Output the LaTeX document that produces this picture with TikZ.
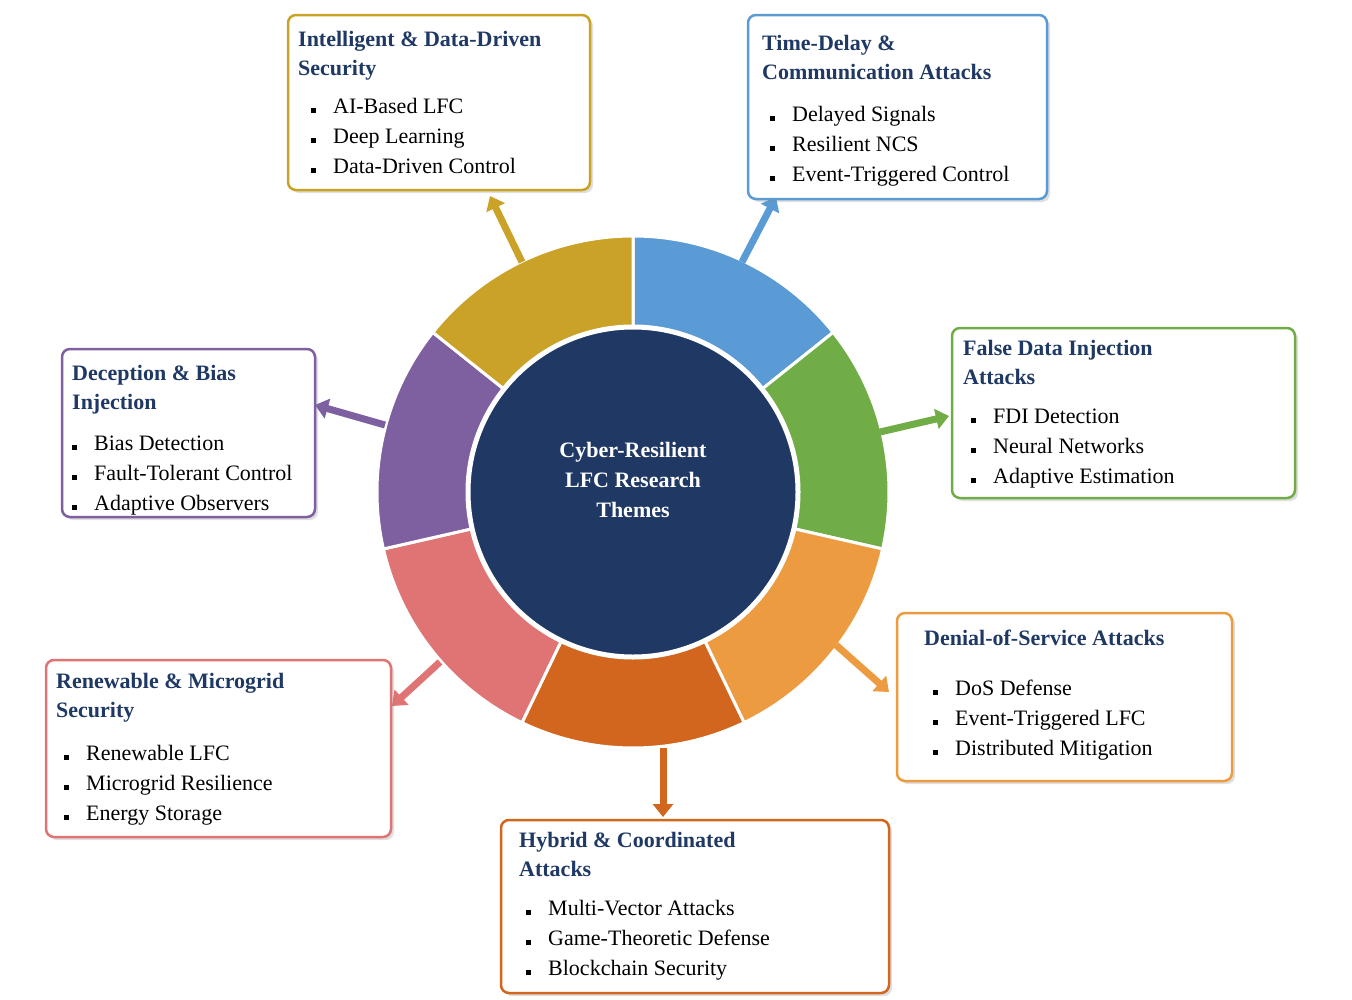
\documentclass[tikz,border=0pt]{standalone}
\usepackage{fontspec}
\setmainfont{Liberation Serif}
\usetikzlibrary{arrows.meta,shadows}
\definecolor{cblue}{HTML}{5B9BD5}
\definecolor{cgreen}{HTML}{70AD47}
\definecolor{corange}{HTML}{ED9B40}
\definecolor{cdorange}{HTML}{D2661E}
\definecolor{cpink}{HTML}{E07474}
\definecolor{cpurple}{HTML}{7E60A0}
\definecolor{cgold}{HTML}{C9A227}
\definecolor{cnavy}{HTML}{1F3864}
\tikzset{
 themebox/.style={draw=#1,line width=2.5pt,rounded corners=8pt,fill=white,drop shadow={opacity=0.25,shadow xshift=3pt,shadow yshift=-3pt}},
 ttl/.style={anchor=base west,inner sep=0,font=\fontsize{22}{26}\selectfont\bfseries,text=cnavy},
 itm/.style={anchor=base west,inner sep=0,font=\fontsize{22}{26}\selectfont},
 bul/.style={anchor=base west,inner sep=0,font=\fontsize{22}{26}\selectfont},
 arr/.style={draw=#1,line width=7pt,-{Triangle[length=13pt,width=20pt]}},
 seg/.style={fill=#1,draw=white,line width=3pt},
 ctr/.style={font=\fontsize{22}{30}\selectfont\bfseries,text=white,align=center}
}
\newcommand{\bl}[4]{\node[bul] at (#1,-#3) {\rule{5pt}{5pt}}; \node[itm] at (#2,-#3) {#4};}
\begin{document}
\begin{tikzpicture}[x=1pt,y=1pt]
\useasboundingbox (0,0) rectangle (1352,-999);
% ring
\begin{scope}[shift={(633,-492)}]
\foreach \a/\c in {38.57/cblue,-12.86/cgreen,-64.29/corange,-115.71/cdorange,-167.14/cpink,-218.57/cpurple,-270/cgold}{
 \pgfmathsetmacro{\b}{\a+51.43}
 \filldraw[seg=\c] (\a:256) arc[start angle=\a,end angle=\b,radius=256] -- (\b:158) arc[start angle=\b,end angle=\a,radius=158] -- cycle;
}
\filldraw[fill=cnavy,draw=white,line width=5pt] (0,0) circle (165);
\end{scope}
\node[ctr] (c) at (633,-480) {\pgfsetfillopacity{1}Cyber-Resilient\\LFC Research\\Themes};
% anchor coordinates for arrows
\coordinate (gs) at (522,-262); \coordinate (ge) at (490,-196);
\coordinate (bs) at (742,-262); \coordinate (be) at (776,-197);
\coordinate (grs) at (880,-432); \coordinate (gre) at (949,-416);
\coordinate (os) at (836,-645); \coordinate (oe) at (889,-692);
\coordinate (ds) at (663,-748); \coordinate (de) at (663,-817);
\coordinate (ps) at (440,-662); \coordinate (pe) at (392,-706);
\coordinate (us) at (385,-425); \coordinate (ue) at (315,-405);
\draw[arr=cgold] (gs) -- (ge);
\draw[arr=cblue] (bs) -- (be);
\draw[arr=cgreen] (grs) -- (gre);
\draw[arr=corange] (os) -- (oe);
\draw[arr=cdorange] (ds) -- (de);
\draw[arr=cpink] (ps) -- (pe);
\draw[arr=cpurple] (us) -- (ue);
% boxes
\draw[themebox=cgold] (288,-15) rectangle (590,-190);
\node[ttl] at (298,-46) {Intelligent \& Data-Driven};
\node[ttl] at (298,-75) {Security};
\bl{311}{333}{113}{AI-Based LFC}
\bl{311}{333}{143}{Deep Learning}
\bl{311}{333}{173}{Data-Driven Control}

\draw[themebox=cblue] (748,-15) rectangle (1047,-199);
\node[ttl] at (762,-50) {Time-Delay \&};
\node[ttl] at (762,-79) {Communication Attacks};
\bl{770}{792}{121}{Delayed Signals}
\bl{770}{792}{151}{Resilient NCS}
\bl{770}{792}{181}{Event-Triggered Control}

\draw[themebox=cgreen] (952,-328) rectangle (1295,-498);
\node[ttl] at (963,-355) {False Data Injection};
\node[ttl] at (963,-384) {Attacks};
\bl{971}{993}{423}{FDI Detection}
\bl{971}{993}{453}{Neural Networks}
\bl{971}{993}{483}{Adaptive Estimation}

\draw[themebox=corange] (897,-613) rectangle (1232,-781);
\node[ttl] at (924,-645) {Denial-of-Service Attacks};
\bl{933}{955}{695}{DoS Defense}
\bl{933}{955}{725}{Event-Triggered LFC}
\bl{933}{955}{755}{Distributed Mitigation}

\draw[themebox=cdorange] (501,-820) rectangle (889,-993);
\node[ttl] at (519,-847) {Hybrid \& Coordinated};
\node[ttl] at (519,-876) {Attacks};
\bl{526}{548}{915}{Multi-Vector Attacks}
\bl{526}{548}{945}{Game-Theoretic Defense}
\bl{526}{548}{975}{Blockchain Security}

\draw[themebox=cpink] (46,-660) rectangle (391,-837);
\node[ttl] at (56,-688) {Renewable \& Microgrid};
\node[ttl] at (56,-717) {Security};
\bl{64}{86}{760}{Renewable LFC}
\bl{64}{86}{790}{Microgrid Resilience}
\bl{64}{86}{820}{Energy Storage}

\draw[themebox=cpurple] (62,-349) rectangle (315,-517);
\node[ttl] at (72,-380) {Deception \& Bias};
\node[ttl] at (72,-409) {Injection};
\bl{72}{94}{450}{Bias Detection}
\bl{72}{94}{480}{Fault-Tolerant Control}
\bl{72}{94}{510}{Adaptive Observers}
\end{tikzpicture}
\end{document}
